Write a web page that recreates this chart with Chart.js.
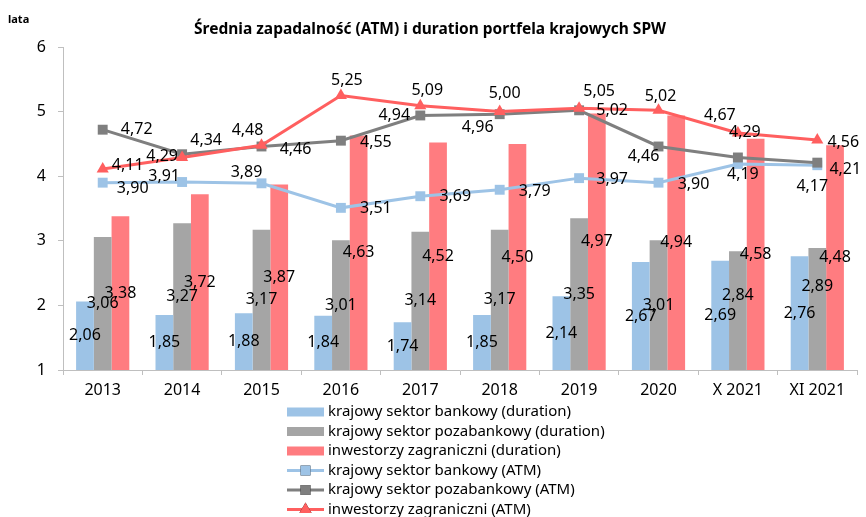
<!DOCTYPE html>
<html>
<head>
<meta charset="utf-8">
<script src="https://cdn.jsdelivr.net/npm/chart.js@4/dist/chart.umd.min.js"></script>
<style>
  html, body { margin: 0; padding: 0; background: #fff; }
  #wrap { width: 866px; height: 517px; }
</style>
</head>
<body>
<div id="wrap"><canvas id="myChart" width="866" height="517"></canvas></div>
<script>
// categories and values
const labels = ['2013', '2014', '2015', '2016', '2017', '2018', '2019', '2020', 'X 2021', 'XI 2021'];
const bankDuration = [2.06, 1.85, 1.88, 1.84, 1.74, 1.85, 2.14, 2.67, 2.69, 2.76];
const nonBankDuration = [3.06, 3.27, 3.17, 3.01, 3.14, 3.17, 3.35, 3.01, 2.84, 2.89];
const foreignDuration = [3.38, 3.72, 3.87, 4.63, 4.52, 4.50, 4.97, 4.94, 4.58, 4.48];
const bankATM = [3.90, 3.91, 3.89, 3.51, 3.69, 3.79, 3.97, 3.90, 4.19, 4.17];
const nonBankATM = [4.72, 4.34, 4.46, 4.55, 4.94, 4.96, 5.02, 4.46, 4.29, 4.21];
const foreignATM = [4.11, 4.29, 4.48, 5.25, 5.09, 5.00, 5.05, 5.02, 4.67, 4.56];
const yTicks = [1, 2, 3, 4, 5, 6];

// where each line label sits relative to its point (dx, dy)
const lineLabelShift = {
    3: [[30, 6], [-18, -6], [-15, -11], [35, 1], [35, 0], [35, 2], [33, 1], [35, 2], [5, 11], [-5, 21]],
    4: [[34, 0], [24, -14], [34, 3], [35, 2], [-26, 0], [-22, 13], [33, 0], [-15, 10], [7, -25], [28, 7]],
    5: [[25, -4], [-20, -1], [-14, -15], [6, -15], [7, -15], [5, -18], [20, -17], [2, -14], [-18, -17], [26, 2]]
};
// a couple of bar labels nudged up so they don't collide
const barLabelShift = { 1: { 8: -15, 9: -23 } };

const FONT = "'Noto Sans', sans-serif";

function fmt(v) {
    return v.toFixed(2).replace('.', ',');
}

// value labels on bars (centred on the visible part) and next to line points
const valueLabels = {
    id: 'valueLabels',
    afterDatasetsDraw(chart) {
        const ctx = chart.ctx;
        const bottom = chart.chartArea.bottom;
        ctx.save();
        ctx.font = '16px ' + FONT;
        ctx.fillStyle = '#000';
        ctx.textAlign = 'center';
        ctx.textBaseline = 'middle';
        chart.data.datasets.forEach((ds, i) => {
            const meta = chart.getDatasetMeta(i);
            meta.data.forEach((el, j) => {
                const text = fmt(ds.data[j]);
                if (ds.type === 'bar') {
                    const dy = (barLabelShift[i] && barLabelShift[i][j]) || 0;
                    ctx.fillText(text, el.x, (el.y + Math.min(el.base, bottom)) / 2 + dy);
                } else {
                    const s = lineLabelShift[i][j];
                    ctx.fillText(text, el.x + s[0], el.y + s[1]);
                }
            });
        });
        ctx.restore();
    }
};

// title, unit caption and the stacked legend underneath
const decorations = {
    id: 'decorations',
    afterDraw(chart) {
        const ctx = chart.ctx;
        ctx.save();
        ctx.fillStyle = '#000';
        ctx.textBaseline = 'middle';

        ctx.font = 'bold 15.5px ' + FONT;
        ctx.textAlign = 'center';
        ctx.fillText('Średnia zapadalność (ATM) i duration portfela krajowych SPW', 430, 30);

        ctx.font = 'bold 11px ' + FONT;
        ctx.textAlign = 'left';
        ctx.fillText('lata', 8, 20);

        ctx.font = '15px ' + FONT;
        const x0 = 287, w = 37, tx = 328;
        chart.data.datasets.forEach((ds, i) => {
            const y = 412 + i * 19.5;
            if (ds.type === 'bar') {
                ctx.fillStyle = ds.backgroundColor;
                ctx.fillRect(x0, y - 4.5, w, 9);
            } else {
                ctx.strokeStyle = ds.borderColor;
                ctx.lineWidth = 3;
                ctx.beginPath();
                ctx.moveTo(x0, y);
                ctx.lineTo(x0 + w, y);
                ctx.stroke();
                Chart.helpers.drawPoint(ctx, {
                    pointStyle: ds.pointStyle, radius: 7, borderWidth: 0
                }, x0 + w / 2, y);
                ctx.fillStyle = ds.pointBackgroundColor;
                ctx.fill();
            }
            ctx.fillStyle = '#000';
            ctx.fillText(ds.label, tx, y);
        });
        ctx.restore();
    }
};

const ctx = document.getElementById('myChart').getContext('2d');
const myChart = new Chart(ctx, {
    data: {
        labels: labels,
        datasets: [{
            type: 'bar',
            label: 'krajowy sektor bankowy (duration)',
            data: bankDuration,
            backgroundColor: '#9DC3E6',
            order: 3
        }, {
            type: 'bar',
            label: 'krajowy sektor pozabankowy (duration)',
            data: nonBankDuration,
            backgroundColor: '#A5A5A5',
            order: 3
        }, {
            type: 'bar',
            label: 'inwestorzy zagraniczni (duration)',
            data: foreignDuration,
            backgroundColor: '#FF7C80',
            order: 3
        }, {
            type: 'line',
            label: 'krajowy sektor bankowy (ATM)',
            data: bankATM,
            borderColor: '#9DC3E6',
            borderWidth: 3,
            pointStyle: 'rect',
            pointRadius: 7,
            pointBorderWidth: 0,
            pointBackgroundColor: '#9DC3E6',
            order: 2
        }, {
            type: 'line',
            label: 'krajowy sektor pozabankowy (ATM)',
            data: nonBankATM,
            borderColor: '#7F7F7F',
            borderWidth: 3,
            pointStyle: 'rect',
            pointRadius: 7,
            pointBorderWidth: 0,
            pointBackgroundColor: '#7F7F7F',
            order: 1
        }, {
            type: 'line',
            label: 'inwestorzy zagraniczni (ATM)',
            data: foreignATM,
            borderColor: '#FF5F5F',
            borderWidth: 3,
            pointStyle: 'triangle',
            pointRadius: 7,
            pointBorderWidth: 0,
            pointBackgroundColor: '#FF5F5F',
            order: 0
        }]
    },
    options: {
        responsive: false,
        animation: false,
        layout: { padding: { top: 47, right: 9, bottom: 117, left: 0 } },
        datasets: {
            bar: { categoryPercentage: 0.67, barPercentage: 1.0 }
        },
        plugins: {
            legend: { display: false },
            title: { display: false },
            tooltip: { enabled: false }
        },
        scales: {
            x: {
                grid: { drawOnChartArea: false, drawTicks: true, tickLength: 5, color: '#BFBFBF', offset: true },
                border: { color: '#BFBFBF', width: 1 },
                ticks: { color: '#000', font: { family: FONT, size: 16 }, padding: 6, maxRotation: 0 },
                afterFit(scale) { scale.height = 30; }
            },
            y: {
                min: 1,
                max: 6,
                afterBuildTicks(scale) { scale.ticks = yTicks.map(v => ({ value: v })); },
                grid: { drawOnChartArea: false, drawTicks: true, tickLength: 5, color: '#BFBFBF' },
                border: { color: '#BFBFBF', width: 1 },
                ticks: { color: '#000', font: { family: FONT, size: 16 }, padding: 12 },
                afterFit(scale) { scale.width = 63; }
            }
        }
    },
    plugins: [valueLabels, decorations]
});
</script>
</body>
</html>
